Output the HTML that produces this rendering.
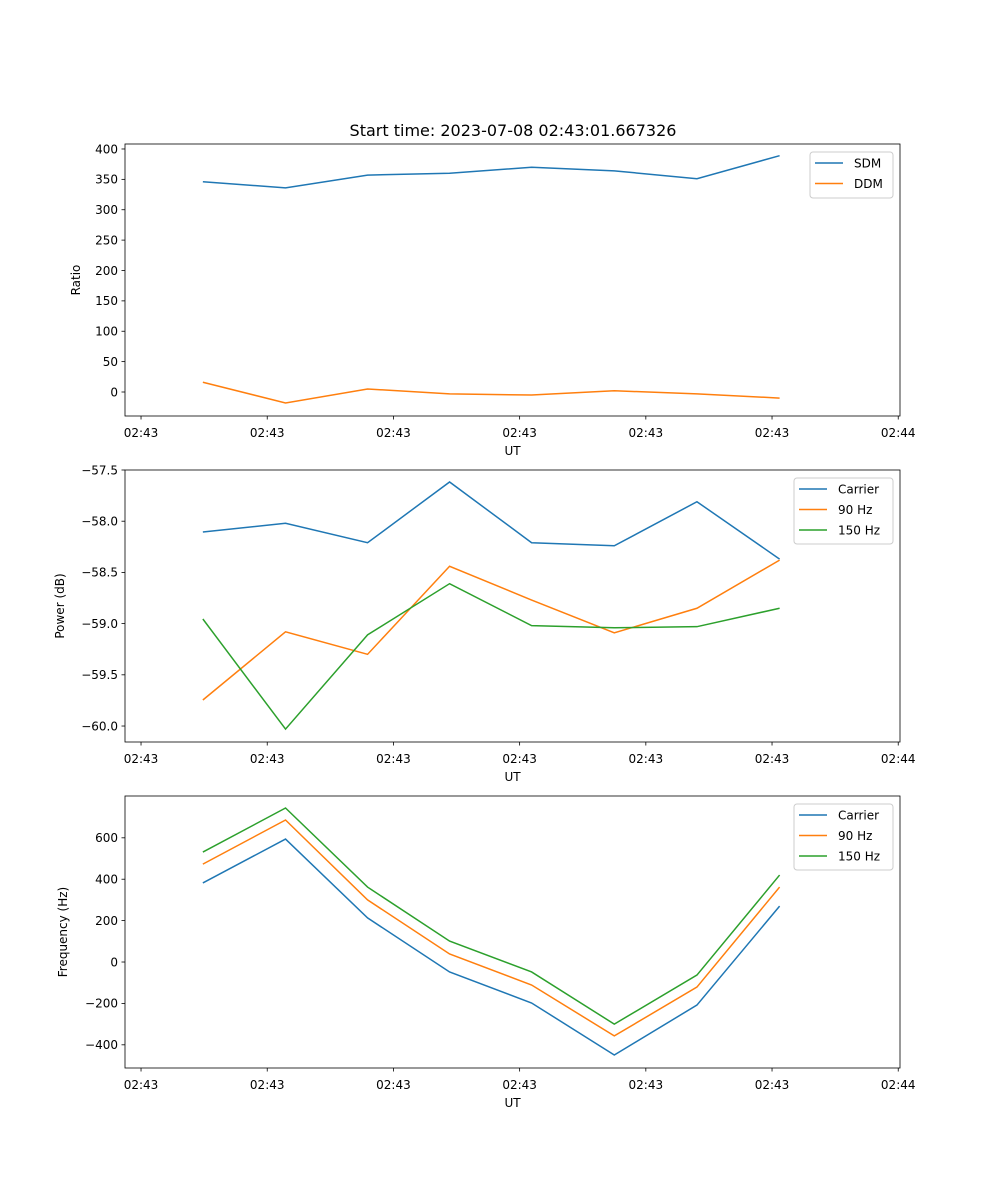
<!DOCTYPE html>
<html><head><meta charset="utf-8"><style>
body{margin:0;background:#fff}
svg{display:block;font-family:"DejaVu Sans","Liberation Sans",sans-serif}
</style></head><body>
<svg id="fig" width="1000" height="1200" viewBox="0 0 1000 1200">
<text x="513" y="136" font-size="16" text-anchor="middle">Start time: 2023-07-08 02:43:01.667326</text>
</svg>
<script>
const times=[4.9,11.45,17.95,24.45,30.95,37.5,44.05,50.6];
const xTicks=[0,10,20,30,40,50,60];
const xTickLabels=["02:43","02:43","02:43","02:43","02:43","02:43","02:44"];
const sdm=[346,336,357,360,370,364,351,389];
const ddm=[16,-18,5,-3,-5,2,-3,-10];
const ratioTicks=[0,50,100,150,200,250,300,350,400];
const powCarrier=[-58.105,-58.02,-58.21,-57.617,-58.21,-58.24,-57.81,-58.37];
const pow90=[-59.746,-59.08,-59.30,-58.44,-58.77,-59.09,-58.85,-58.38];
const pow150=[-58.955,-60.03,-59.11,-58.61,-59.02,-59.04,-59.03,-58.85];
const powTicks=[-60.0,-59.5,-59.0,-58.5,-58.0,-57.5];
const powTickLabels=["\u221260.0","\u221259.5","\u221259.0","\u221258.5","\u221258.0","\u221257.5"];
const freqCarrier=[382,594,213,-48,-198,-449,-208,270];
const freq90=[473,686,300,39,-111,-357,-121,362];
const freq150=[531,744,362,101,-48,-300,-63,420];
const freqTicks=[-400,-200,0,200,400,600];
const freqTickLabels=["\u2212400","\u2212200","0","200","400","600"];

const NS="http://www.w3.org/2000/svg";
const fig=document.getElementById('fig');
function mk(tag,attrs,parent){const e=document.createElementNS(NS,tag);for(const k in attrs)e.setAttribute(k,attrs[k]);(parent||fig).appendChild(e);return e;}
const L=125,R=900,xMin=-1.27,xMax=60.14;
const xs=t=>L+(t-xMin)/(xMax-xMin)*(R-L);

function panel(name,top,bot,yMin,yMax,yTicks,yLabels,ylabel,series,legend){
  const g=mk('g',{});
  
  
  const ys=v=>bot-(v-yMin)/(yMax-yMin)*(bot-top);
  series.forEach(s=>{
    const p=mk('polyline',{points:s.v.map((v,i)=>xs(times[i])+','+ys(v)).join(' '),fill:'none',stroke:s.c,'stroke-width':1.5},g);
    
    
  });
  mk('rect',{x:L,y:top,width:R-L,height:bot-top,fill:'none',stroke:'#000','stroke-width':0.8},g);
  xTicks.forEach((t,i)=>{
    const x=xs(t);
    mk('line',{x1:x,x2:x,y1:bot,y2:bot+3.5,stroke:'#000','stroke-width':0.8},g);
    const tx=mk('text',{x:x,y:bot+21,'font-size':12,'text-anchor':'middle'},g);tx.textContent=xTickLabels[i];
    
    
  });
  const xl=mk('text',{x:(L+R)/2,y:bot+39,'font-size':12,'text-anchor':'middle'},g);xl.textContent='UT';
  
  
  yTicks.forEach((v,i)=>{
    const y=ys(v);
    mk('line',{x1:L-3.5,x2:L,y1:y,y2:y,stroke:'#000','stroke-width':0.8},g);
    const tx=mk('text',{x:L-7,y:y+4.3,'font-size':12,'text-anchor':'end'},g);tx.textContent=yLabels[i];
    
    
  });
  const yl=mk('text',{x:0,y:0,'font-size':12,'text-anchor':'middle',transform:`translate(${legend.yl},${(top+bot)/2}) rotate(-90)`},g);yl.textContent=ylabel;
  
  
  const lg=mk('g',{},g);
  
  
  const h=series.length*20+6;
  mk('rect',{x:legend.x,y:top+8,width:R-7-legend.x,height:h,fill:'#fff',stroke:'#ccc',rx:3},lg);
  series.forEach((s,i)=>{
    const y=top+19+i*20.5;
    mk('line',{x1:legend.x+5,x2:legend.x+33,y1:y,y2:y,stroke:s.c,'stroke-width':1.5},lg);
    const t=mk('text',{x:legend.x+44,y:y+4.3,'font-size':12},lg);t.textContent=s.label;
    
    
  });
}
const B='#1f77b4',O='#ff7f0e',G='#2ca02c';
panel('ratio',144,416,-39.5,408.2,ratioTicks,ratioTicks.map(String),'Ratio',
  [{id:'sdm',v:sdm,c:B,label:'SDM'},{id:'ddm',v:ddm,c:O,label:'DDM'}],{x:810,yl:80});
panel('power',470,742,-60.156,-57.5,powTicks,powTickLabels,'Power (dB)',
  [{id:'carrier',v:powCarrier,c:B,label:'Carrier'},{id:'90hz',v:pow90,c:O,label:'90 Hz'},{id:'150hz',v:pow150,c:G,label:'150 Hz'}],{x:794,yl:64});
panel('frequency',796,1068,-512,802,freqTicks,freqTickLabels,'Frequency (Hz)',
  [{id:'carrier',v:freqCarrier,c:B,label:'Carrier'},{id:'90hz',v:freq90,c:O,label:'90 Hz'},{id:'150hz',v:freq150,c:G,label:'150 Hz'}],{x:794,yl:67});
</script>
</body></html>
